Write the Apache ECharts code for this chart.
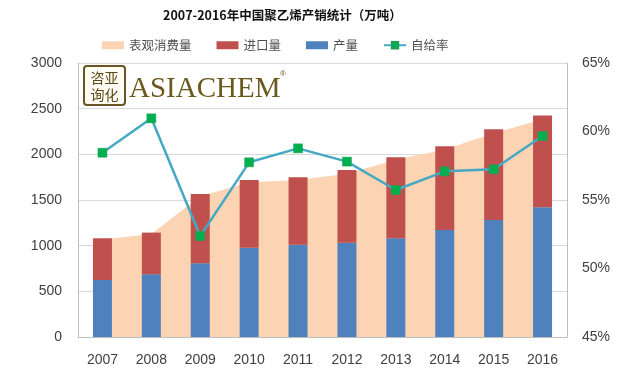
<!DOCTYPE html>
<html>
<head>
<meta charset="utf-8">
<script src="https://cdn.jsdelivr.net/npm/echarts@6/dist/echarts.min.js"></script>
<style>
html,body{margin:0;padding:0;background:#fff;}
#chart{width:634px;height:369px;}
</style>
</head>
<body>
<div id="chart"></div>
<script>
var titleText = '2007-2016年中国聚乙烯产销统计（万吨）';
var years = ['2007','2008','2009','2010','2011','2012','2013','2014','2015','2016'];
var consumption = [1068, 1127, 1541, 1693, 1720, 1787, 1940, 2053, 2232, 2385];
var imports = [457, 456, 759, 741, 738, 796, 887, 917, 994, 1004];
var production = [624, 687, 807, 978, 1011, 1033, 1081, 1172, 1281, 1420];
var selfRate = [58.45, 60.96, 52.37, 57.75, 58.77, 57.8, 55.73, 57.09, 57.24, 59.67];
var leftTicks = {min: 0, max: 3000, interval: 500};
var rightTicks = {min: 45, max: 65, interval: 5};
var names = ['表观消费量', '进口量', '产量', '自给率'];

var chart = echarts.init(document.getElementById('chart'), null, {renderer: 'canvas'});
var labelFont = {color: '#404040', fontSize: 14, fontFamily: 'Liberation Sans, Arial, sans-serif'};
var cjk = '"Noto Sans CJK SC", sans-serif';

chart.setOption({
  animation: false,
  backgroundColor: '#ffffff',
  title: {
    text: titleText,
    left: 158, top: 4,
    textStyle: {fontSize: 12.5, fontWeight: 'bold', color: '#111', fontFamily: cjk}
  },
  legend: {
    left: 97, top: 34,
    itemWidth: 22, itemHeight: 8, itemGap: 25,
    textStyle: {fontSize: 12.5, color: '#505050', fontFamily: cjk},
    data: [
      {name: names[0], icon: 'rect'},
      {name: names[1], icon: 'rect'},
      {name: names[2], icon: 'rect'},
      {name: names[3]}
    ]
  },
  grid: {left: 78, right: 67, top: 63, bottom: 32, containLabel: false},
  xAxis: {
    type: 'category',
    data: years,
    boundaryGap: true,
    axisLine: {show: true, lineStyle: {color: '#BFBFBF', width: 1}},
    axisTick: {show: false},
    axisLabel: Object.assign({margin: 16}, labelFont)
  },
  yAxis: [
    {
      type: 'value', min: leftTicks.min, max: leftTicks.max, interval: leftTicks.interval,
      axisLine: {show: true, lineStyle: {color: '#BFBFBF'}},
      axisTick: {show: false},
      splitLine: {show: true, lineStyle: {color: '#D9D9D9', width: 1}},
      axisLabel: Object.assign({margin: 16, formatter: function (v) { return String(v); }}, labelFont)
    },
    {
      type: 'value', min: rightTicks.min, max: rightTicks.max, interval: rightTicks.interval,
      axisLine: {show: true, lineStyle: {color: '#BFBFBF'}},
      axisTick: {show: false},
      splitLine: {show: false},
      axisLabel: Object.assign({margin: 15, formatter: function (v) { return v + '%'; }}, labelFont)
    }
  ],
  series: [
    {
      name: names[0], type: 'line', data: consumption, z: 1,
      showSymbol: false, symbol: 'none',
      lineStyle: {width: 0, color: '#FCD4B4'},
      itemStyle: {color: '#FCD4B4'},
      areaStyle: {color: '#FCD4B4', opacity: 1}
    },
    {
      name: names[2], type: 'bar', stack: 'total', data: production, z: 2,
      barWidth: 19, itemStyle: {color: '#4F81BD'}
    },
    {
      name: names[1], type: 'bar', stack: 'total', data: imports, z: 2,
      barWidth: 19, itemStyle: {color: '#C0504D'}
    },
    {
      name: names[3], type: 'line', yAxisIndex: 1, data: selfRate, z: 3,
      symbol: 'rect', symbolSize: 9,
      lineStyle: {width: 2.5, color: '#45A9C3'},
      itemStyle: {color: '#00B050', borderColor: '#1E9E55', borderWidth: 0.5}
    }
  ],
  graphic: [
    {
      type: 'rect', z: 10,
      shape: {x: 84, y: 66, width: 41, height: 39, r: 3},
      style: {fill: '#FFFDF3', stroke: '#6B5424', lineWidth: 2}
    },
    {
      type: 'text', z: 11,
      style: {x: 104.5, y: 86, text: '咨亚\n询化', font: '14px "Noto Sans CJK SC"', fill: '#5A4616',
        textAlign: 'center', textVerticalAlign: 'middle', lineHeight: 17}
    },
    {
      type: 'text', z: 11,
      style: {x: 129, y: 89, text: 'ASIACHEM', font: '29px "Liberation Serif", serif', fill: '#6B5A1E',
        textAlign: 'left', textVerticalAlign: 'middle'}
    },
    {
      type: 'text', z: 11,
      style: {x: 280, y: 74, text: '®', font: '8px "Liberation Sans"', fill: '#6B5A1E',
        textAlign: 'left', textVerticalAlign: 'middle'}
    }
  ]
});
</script>
</body>
</html>
